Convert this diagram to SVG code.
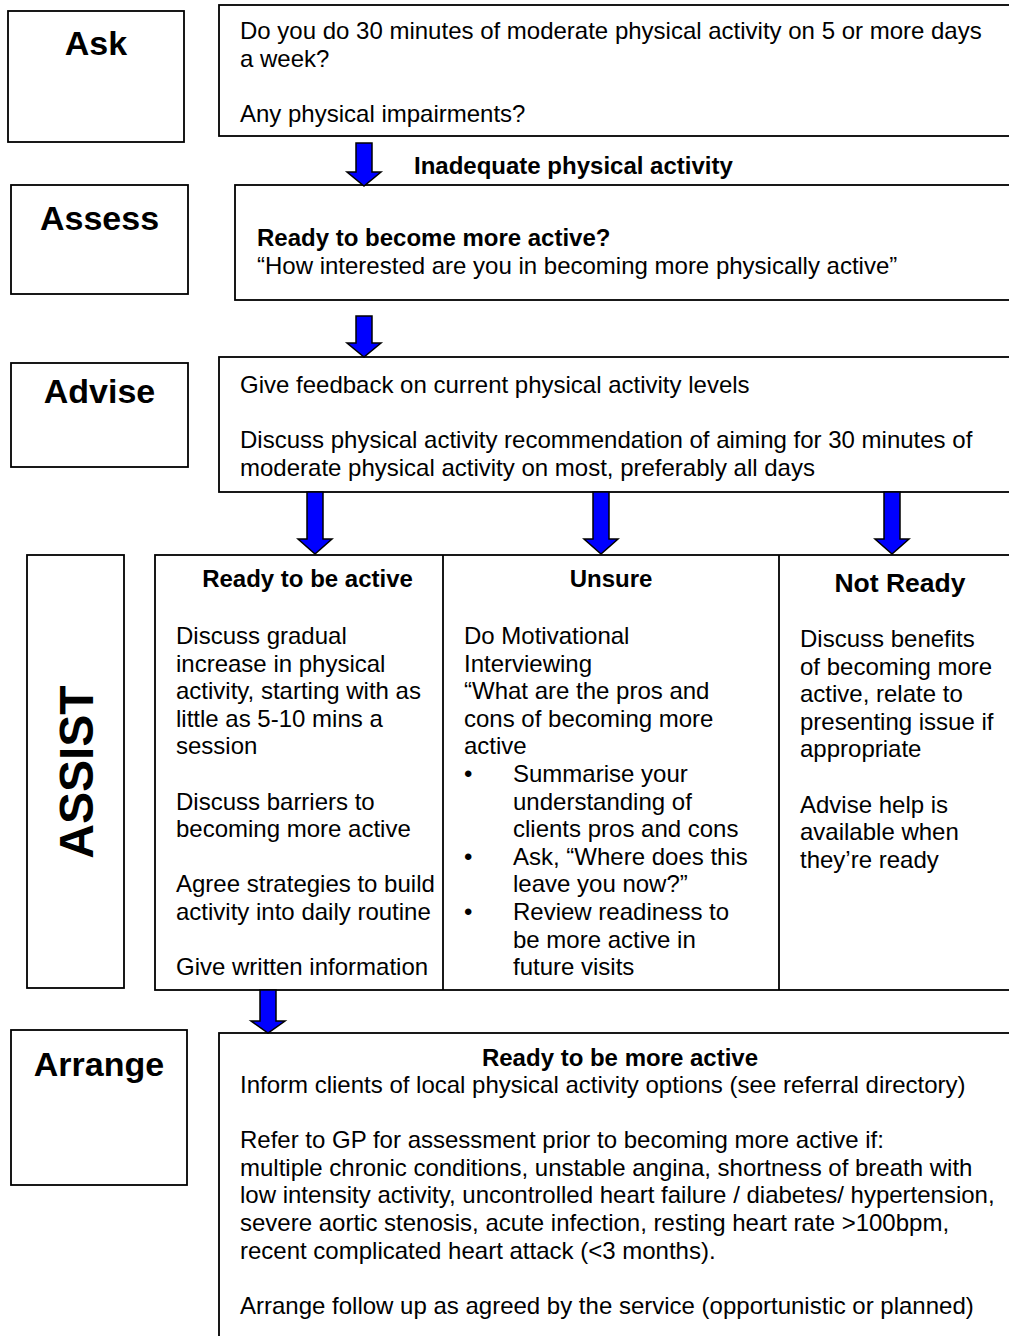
<svg xmlns="http://www.w3.org/2000/svg" width="1009" height="1336" viewBox="0 0 1009 1336">
<style>
.box{fill:#fff;stroke:#000;stroke-width:1.8}
.ln{stroke:#000;stroke-width:1.8}
.arr{fill:#0000ff;stroke:#000;stroke-width:1.5;stroke-linejoin:miter}
text{font-family:"Liberation Sans",Arial,sans-serif;fill:#000}
.t{font-size:24px}
.b{font-size:24px;font-weight:bold}
.lab{font-size:34px;font-weight:bold;text-anchor:middle}
.mid{text-anchor:middle}
</style>
<rect width="1009" height="1336" fill="#fff"/>

<g id="ask-label"><rect class="box" x="8" y="11" width="176" height="131"/><text class="lab" x="96" y="55">Ask</text></g>
<g id="ask-content"><rect class="box" x="219" y="5" width="800" height="131"/>
<text class="t" x="240" y="39">Do you do 30 minutes of moderate physical activity on 5 or more days</text>
<text class="t" x="240" y="66.6">a week?</text>
<text class="t" x="240" y="121.8">Any physical impairments?</text></g>

<g id="assess-label"><rect class="box" x="11" y="185" width="177" height="109"/><text class="lab" x="99.5" y="230">Assess</text></g>
<g id="assess-content"><rect class="box" x="235" y="185" width="790" height="115"/>
<text class="b" x="257" y="246">Ready to become more active?</text>
<text class="t" x="257" y="274">“How interested are you in becoming more physically active”</text></g>

<g id="advise-label"><rect class="box" x="11" y="363" width="177" height="104"/><text class="lab" x="99.5" y="403">Advise</text></g>
<g id="advise-content"><rect class="box" x="219" y="357" width="800" height="135"/>
<text class="t" x="240" y="393">Give feedback on current physical activity levels</text>
<text class="t" x="240" y="448.2">Discuss physical activity recommendation of aiming for 30 minutes of</text>
<text class="t" x="240" y="475.8">moderate physical activity on most, preferably all days</text></g>

<g id="assist-label"><rect class="box" x="27" y="555" width="97" height="433"/>
<text font-size="48" font-weight="bold" text-anchor="middle" transform="translate(93 772) rotate(-90)">ASSIST</text></g>

<g id="assist-table"><rect class="box" x="155" y="555" width="870" height="435"/>
<line class="ln" x1="443" y1="555" x2="443" y2="990"/>
<line class="ln" x1="779" y1="555" x2="779" y2="990"/></g>

<g id="ready-to-be-active">
<text class="b mid" x="307.5" y="587">Ready to be active</text>
<text class="t" x="176" y="644">Discuss gradual</text>
<text class="t" x="176" y="671.6">increase in physical</text>
<text class="t" x="176" y="699.2">activity, starting with as</text>
<text class="t" x="176" y="726.8">little as 5-10 mins a</text>
<text class="t" x="176" y="754.4">session</text>
<text class="t" x="176" y="809.6">Discuss barriers to</text>
<text class="t" x="176" y="837.2">becoming more active</text>
<text class="t" x="176" y="892.4">Agree strategies to build</text>
<text class="t" x="176" y="920">activity into daily routine</text>
<text class="t" x="176" y="975.2">Give written information</text></g>

<g id="unsure">
<text class="b mid" x="611" y="587">Unsure</text>
<text class="t" x="464" y="644">Do Motivational</text>
<text class="t" x="464" y="671.6">Interviewing</text>
<text class="t" x="464" y="699.2">“What are the pros and</text>
<text class="t" x="464" y="726.8">cons of becoming more</text>
<text class="t" x="464" y="754.4">active</text>
<text class="t" x="464" y="782">•</text>
<text class="t" x="513" y="782">Summarise your</text>
<text class="t" x="513" y="809.6">understanding of</text>
<text class="t" x="513" y="837.2">clients pros and cons</text>
<text class="t" x="464" y="864.8">•</text>
<text class="t" x="513" y="864.8">Ask, “Where does this</text>
<text class="t" x="513" y="892.4">leave you now?”</text>
<text class="t" x="464" y="920">•</text>
<text class="t" x="513" y="920">Review readiness to</text>
<text class="t" x="513" y="947.6">be more active in</text>
<text class="t" x="513" y="975.2">future visits</text></g>

<g id="not-ready">
<text class="mid" font-size="26.5" font-weight="bold" x="900" y="592">Not Ready</text>
<text class="t" x="800" y="647">Discuss benefits</text>
<text class="t" x="800" y="674.6">of becoming more</text>
<text class="t" x="800" y="702.2">active, relate to</text>
<text class="t" x="800" y="729.8">presenting issue if</text>
<text class="t" x="800" y="757.4">appropriate</text>
<text class="t" x="800" y="812.6">Advise help is</text>
<text class="t" x="800" y="840.2">available when</text>
<text class="t" x="800" y="867.8">they’re ready</text></g>

<g id="arrange-label"><rect class="box" x="11" y="1030" width="176" height="155"/><text class="lab" x="99" y="1076">Arrange</text></g>
<g id="arrange-content"><rect class="box" x="219" y="1033" width="800" height="320"/>
<text class="b mid" x="620" y="1066">Ready to be more active</text>
<text class="t" x="240" y="1093">Inform clients of local physical activity options (see referral directory)</text>
<text class="t" x="240" y="1148.2">Refer to GP for assessment prior to becoming more active if:</text>
<text class="t" x="240" y="1175.8">multiple chronic conditions, unstable angina, shortness of breath with</text>
<text class="t" x="240" y="1203.4">low intensity activity, uncontrolled heart failure / diabetes/ hypertension,</text>
<text class="t" x="240" y="1231">severe aortic stenosis, acute infection, resting heart rate &gt;100bpm,</text>
<text class="t" x="240" y="1258.6">recent complicated heart attack (&lt;3 months).</text>
<text class="t" x="240" y="1314">Arrange follow up as agreed by the service (opportunistic or planned)</text></g>

<g id="connectors">
<polygon class="arr" points="356,143 372,143 372,172 381,172 364,186 347,172 356,172"/>
<text class="b" x="414" y="174">Inadequate physical activity</text>
<polygon class="arr" points="356,316 372,316 372,343 381,343 364,357 347,343 356,343"/>
<polygon class="arr" points="307,492 323,492 323,539 332,539 315,554 298,539 307,539"/>
<polygon class="arr" points="593,492 609,492 609,539 618,539 601,554 584,539 593,539"/>
<polygon class="arr" points="884,492 900,492 900,539 909,539 892,554 875,539 884,539"/>
<polygon class="arr" points="260,990 276,990 276,1021 285,1021 268,1033 251,1021 260,1021"/>
</g>
</svg>
